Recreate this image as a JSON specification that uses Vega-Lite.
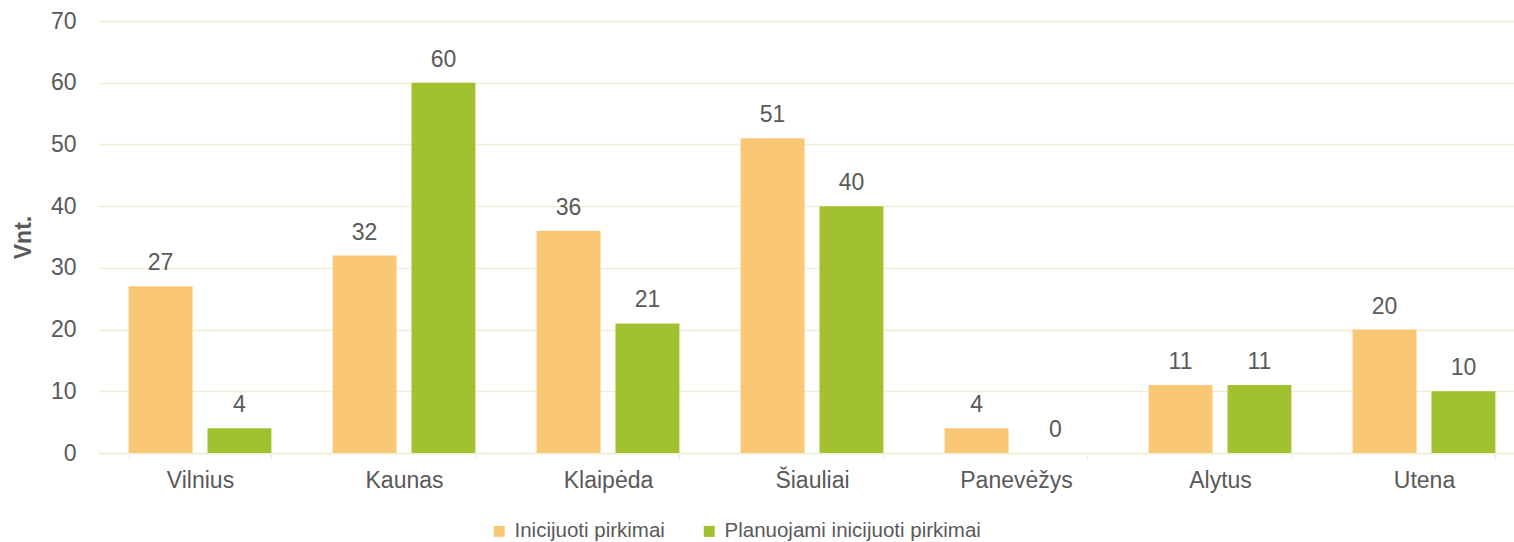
{
  "$schema": "https://vega.github.io/schema/vega-lite/v6.json",
  "autosize": {"type": "none"},
  "padding": {"left": 98, "top": 21, "right": 0, "bottom": 89},
  "width": 1416,
  "height": 432,
  "background": "white",
  "config": {
    "font": "Liberation Sans",
    "view": {"stroke": null}
  },
  "data": {
    "values": [
      {"city": "Vilnius", "series": "Inicijuoti pirkimai", "value": 27},
      {"city": "Vilnius", "series": "Planuojami inicijuoti pirkimai", "value": 4},
      {"city": "Kaunas", "series": "Inicijuoti pirkimai", "value": 32},
      {"city": "Kaunas", "series": "Planuojami inicijuoti pirkimai", "value": 60},
      {"city": "Klaipėda", "series": "Inicijuoti pirkimai", "value": 36},
      {"city": "Klaipėda", "series": "Planuojami inicijuoti pirkimai", "value": 21},
      {"city": "Šiauliai", "series": "Inicijuoti pirkimai", "value": 51},
      {"city": "Šiauliai", "series": "Planuojami inicijuoti pirkimai", "value": 40},
      {"city": "Panevėžys", "series": "Inicijuoti pirkimai", "value": 4},
      {"city": "Panevėžys", "series": "Planuojami inicijuoti pirkimai", "value": 0},
      {"city": "Alytus", "series": "Inicijuoti pirkimai", "value": 11},
      {"city": "Alytus", "series": "Planuojami inicijuoti pirkimai", "value": 11},
      {"city": "Utena", "series": "Inicijuoti pirkimai", "value": 20},
      {"city": "Utena", "series": "Planuojami inicijuoti pirkimai", "value": 10}
    ]
  },
  "encoding": {
    "x": {
      "field": "city",
      "type": "nominal",
      "sort": null,
      "scale": {"range": [0, 1428], "paddingInner": 0.3, "paddingOuter": 0.15},
      "axis": {
        "title": null,
        "labelAngle": 0,
        "labelFontSize": 23,
        "labelColor": "#595959",
        "labelPadding": 10,
        "tickBand": "extent",
        "tickColor": "#EEF0D6",
        "tickSize": 6,
        "domainColor": "#EEF0D6",
        "domainWidth": 1.5,
        "grid": false
      }
    },
    "xOffset": {
      "field": "series",
      "type": "nominal",
      "sort": ["Inicijuoti pirkimai", "Planuojami inicijuoti pirkimai"],
      "scale": {"paddingInner": 0.19, "paddingOuter": 0}
    },
    "y": {
      "field": "value",
      "type": "quantitative",
      "scale": {"domain": [0, 70], "nice": false},
      "axis": {
        "title": "Vnt.",
        "titleFontSize": 23,
        "titleFontWeight": "bold",
        "titleColor": "#595959",
        "titlePadding": 15,
        "values": [0, 10, 20, 30, 40, 50, 60, 70],
        "labelFontSize": 23,
        "labelColor": "#595959",
        "labelPadding": 22,
        "ticks": false,
        "domain": false,
        "grid": true,
        "gridColor": "#EEF0D6",
        "gridWidth": 1.5
      }
    }
  },
  "layer": [
    {
      "mark": {"type": "bar"},
      "encoding": {
        "color": {
          "field": "series",
          "type": "nominal",
          "sort": ["Inicijuoti pirkimai", "Planuojami inicijuoti pirkimai"],
          "scale": {"range": ["#FAC775", "#A2C12F"]},
          "legend": {
            "title": null,
            "orient": "none",
            "direction": "horizontal",
            "legendX": 391,
            "legendY": 500,
            "padding": 0,
            "symbolType": "square",
            "symbolSize": 121,
            "symbolStrokeWidth": 0,
            "labelFontSize": 20.5,
            "labelColor": "#595959",
            "labelOffset": 5,
            "labelLimit": 0,
            "columnPadding": 34
          }
        }
      }
    },
    {
      "mark": {"type": "text", "baseline": "alphabetic", "dy": -16, "fontSize": 23, "color": "#595959"},
      "encoding": {
        "text": {"field": "value", "type": "quantitative"}
      }
    }
  ]
}
